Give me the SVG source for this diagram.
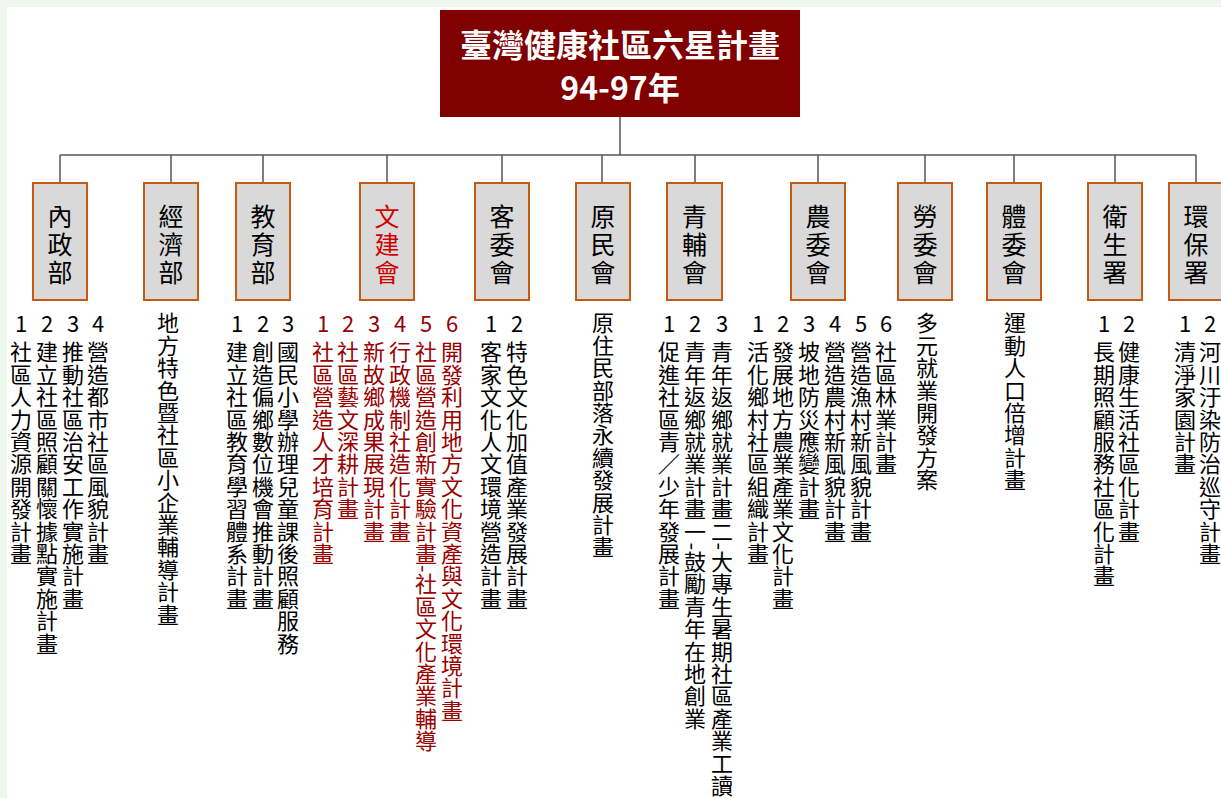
<svg xmlns="http://www.w3.org/2000/svg" width="1221" height="798" viewBox="0 0 1221 798">
<style>
text{font-family:"Noto Sans CJK TC","Noto Sans CJK SC",sans-serif}
.title{fill:#fff;font-size:32px;font-weight:700;text-anchor:middle;dominant-baseline:central}
.box{fill:#d9d9d9;stroke:#c55a11;stroke-width:2}
.lbl{font-size:25px;text-anchor:middle;dominant-baseline:central;fill:#000}
.red{fill:#d00000}
.col{writing-mode:vertical-rl;font-size:22px;letter-spacing:0.4px;fill:#000}
.num{font-size:22px;text-anchor:middle;dominant-baseline:central;fill:#000}
.dr{fill:#990000}
.conn line{stroke:#555;stroke-width:1.5}
</style>
<rect x="0" y="0" width="1221" height="798" fill="#eef8ee"/>
<rect x="7" y="7" width="1214" height="791" fill="#fff"/>
<g id="title">
<rect x="440" y="10" width="360" height="107" fill="#800000"/>
<text class="title" x="620" y="43">臺灣健康社區六星計畫</text>
<text class="title" x="620" y="86">94-97年</text>
</g>
<g id="connectors" class="conn">
<line x1="620" y1="117" x2="620" y2="155"/>
<line x1="60" y1="155" x2="1196" y2="155"/>
<line x1="60" y1="155" x2="60" y2="183"/>
<line x1="171" y1="155" x2="171" y2="183"/>
<line x1="263" y1="155" x2="263" y2="183"/>
<line x1="387" y1="155" x2="387" y2="183"/>
<line x1="502" y1="155" x2="502" y2="183"/>
<line x1="602" y1="155" x2="602" y2="183"/>
<line x1="695" y1="155" x2="695" y2="183"/>
<line x1="818" y1="155" x2="818" y2="183"/>
<line x1="925" y1="155" x2="925" y2="183"/>
<line x1="1014" y1="155" x2="1014" y2="183"/>
<line x1="1115" y1="155" x2="1115" y2="183"/>
<line x1="1196" y1="155" x2="1196" y2="183"/>
</g>
<g id="n-moi">
<rect class="box" x="33" y="183" width="54" height="117"/>
<text class="lbl"><tspan x="60" y="215">內</tspan><tspan x="60" y="243">政</tspan><tspan x="60" y="271">部</tspan></text>
<text class="num" x="21" y="322">1</text><text class="num" x="47" y="322">2</text><text class="num" x="73" y="322">3</text><text class="num" x="98" y="322">4</text>
<text class="col" x="21" y="341">社區人力資源開發計畫</text>
<text class="col" x="47" y="341">建立社區照顧關懷據點實施計畫</text>
<text class="col" x="73" y="341">推動社區治安工作實施計畫</text>
<text class="col" x="98" y="341">營造都市社區風貌計畫</text>
</g>
<g id="n-moea">
<rect class="box" x="144" y="183" width="54" height="117"/>
<text class="lbl"><tspan x="171" y="215">經</tspan><tspan x="171" y="243">濟</tspan><tspan x="171" y="271">部</tspan></text>
<text class="col" x="168" y="312">地方特色暨社區小企業輔導計畫</text>
</g>
<g id="n-moe">
<rect class="box" x="236" y="183" width="54" height="117"/>
<text class="lbl"><tspan x="263" y="215">教</tspan><tspan x="263" y="243">育</tspan><tspan x="263" y="271">部</tspan></text>
<text class="num" x="237" y="322">1</text><text class="num" x="263" y="322">2</text><text class="num" x="288" y="322">3</text>
<text class="col" x="237" y="341">建立社區教育學習體系計畫</text>
<text class="col" x="263" y="341">創造偏鄉數位機會推動計畫</text>
<text class="col" x="288" y="341">國民小學辦理兒童課後照顧服務</text>
</g>
<g id="n-cca">
<rect class="box" x="360" y="183" width="54" height="117"/>
<text class="lbl red"><tspan x="387" y="215">文</tspan><tspan x="387" y="243">建</tspan><tspan x="387" y="271">會</tspan></text>
<text class="num dr" x="323" y="322">1</text><text class="num dr" x="348" y="322">2</text><text class="num dr" x="374" y="322">3</text><text class="num dr" x="400" y="322">4</text><text class="num dr" x="426" y="322">5</text><text class="num dr" x="452" y="322">6</text>
<text class="col dr" x="323" y="341">社區營造人才培育計畫</text>
<text class="col dr" x="348" y="341">社區藝文深耕計畫</text>
<text class="col dr" x="374" y="341">新故鄉成果展現計畫</text>
<text class="col dr" x="400" y="341">行政機制社造化計畫</text>
<text class="col dr" x="426" y="341">社區營造創新實驗計畫-社區文化產業輔導</text>
<text class="col dr" x="452" y="341">開發利用地方文化資產與文化環境計畫</text>
</g>
<g id="n-hakka">
<rect class="box" x="475" y="183" width="54" height="117"/>
<text class="lbl"><tspan x="502" y="215">客</tspan><tspan x="502" y="243">委</tspan><tspan x="502" y="271">會</tspan></text>
<text class="num" x="491" y="322">1</text><text class="num" x="517" y="322">2</text>
<text class="col" x="491" y="341">客家文化人文環境營造計畫</text>
<text class="col" x="517" y="341">特色文化加值產業發展計畫</text>
</g>
<g id="n-cip">
<rect class="box" x="576" y="183" width="54" height="117"/>
<text class="lbl"><tspan x="603" y="215">原</tspan><tspan x="603" y="243">民</tspan><tspan x="603" y="271">會</tspan></text>
<text class="col" x="603" y="312">原住民部落永續發展計畫</text>
</g>
<g id="n-nyc">
<rect class="box" x="667" y="183" width="55" height="117"/>
<text class="lbl"><tspan x="694.5" y="215">青</tspan><tspan x="694.5" y="243">輔</tspan><tspan x="694.5" y="271">會</tspan></text>
<text class="num" x="669" y="322">1</text><text class="num" x="695" y="322">2</text><text class="num" x="722" y="322">3</text>
<text class="col" x="669" y="341">促進社區青／少年發展計畫</text>
<text class="col" x="695" y="341">青年返鄉就業計畫一-鼓勵青年在地創業</text>
<text class="col" x="722" y="341">青年返鄉就業計畫二-大專生暑期社區產業工讀</text>
</g>
<g id="n-coa">
<rect class="box" x="791" y="183" width="54" height="117"/>
<text class="lbl"><tspan x="818" y="215">農</tspan><tspan x="818" y="243">委</tspan><tspan x="818" y="271">會</tspan></text>
<text class="num" x="758" y="322">1</text><text class="num" x="783" y="322">2</text><text class="num" x="809" y="322">3</text><text class="num" x="835" y="322">4</text><text class="num" x="861" y="322">5</text><text class="num" x="886" y="322">6</text>
<text class="col" x="758" y="341">活化鄉村社區組織計畫</text>
<text class="col" x="783" y="341">發展地方農業產業文化計畫</text>
<text class="col" x="809" y="341">坡地防災應變計畫</text>
<text class="col" x="835" y="341">營造農村新風貌計畫</text>
<text class="col" x="861" y="341">營造漁村新風貌計畫</text>
<text class="col" x="886" y="341">社區林業計畫</text>
</g>
<g id="n-cla">
<rect class="box" x="898" y="183" width="54" height="117"/>
<text class="lbl"><tspan x="925" y="215">勞</tspan><tspan x="925" y="243">委</tspan><tspan x="925" y="271">會</tspan></text>
<text class="col" x="927" y="312">多元就業開發方案</text>
</g>
<g id="n-sac">
<rect class="box" x="987" y="183" width="54" height="117"/>
<text class="lbl"><tspan x="1014" y="215">體</tspan><tspan x="1014" y="243">委</tspan><tspan x="1014" y="271">會</tspan></text>
<text class="col" x="1015" y="312">運動人口倍增計畫</text>
</g>
<g id="n-doh">
<rect class="box" x="1088" y="183" width="54" height="117"/>
<text class="lbl"><tspan x="1115" y="215">衛</tspan><tspan x="1115" y="243">生</tspan><tspan x="1115" y="271">署</tspan></text>
<text class="num" x="1104" y="322">1</text><text class="num" x="1129" y="322">2</text>
<text class="col" x="1104" y="341">長期照顧服務社區化計畫</text>
<text class="col" x="1129" y="341">健康生活社區化計畫</text>
</g>
<g id="n-epa">
<rect class="box" x="1169" y="183" width="54" height="117"/>
<text class="lbl"><tspan x="1196" y="215">環</tspan><tspan x="1196" y="243">保</tspan><tspan x="1196" y="271">署</tspan></text>
<text class="num" x="1185" y="322">1</text><text class="num" x="1210" y="322">2</text>
<text class="col" x="1185" y="341">清淨家園計畫</text>
<text class="col" x="1210" y="341">河川汙染防治巡守計畫</text>
</g>
</svg>
